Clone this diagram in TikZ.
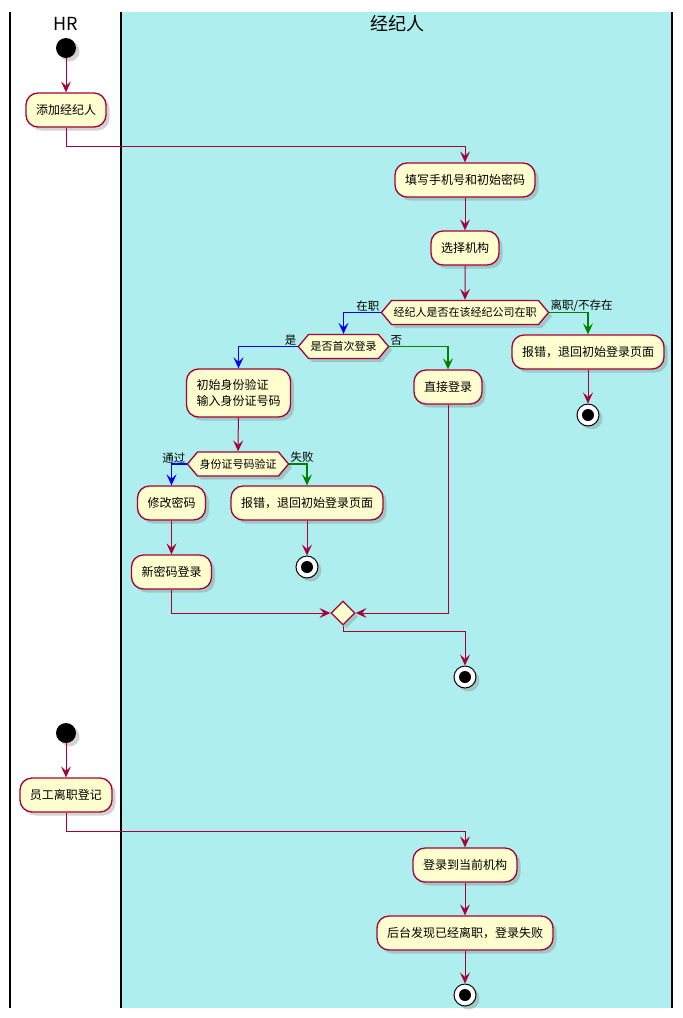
\documentclass[tikz,border=0pt]{standalone}
\usepackage{fontspec}
\setmainfont{Noto Sans CJK SC}
\usetikzlibrary{arrows.meta,shapes.geometric,shapes.symbols,shadows}
\definecolor{umlred}{HTML}{A80036}
\definecolor{umlfill}{HTML}{FEFECE}
\definecolor{lanecyan}{HTML}{AFEEEE}
\definecolor{umlgreen}{HTML}{008000}
\begin{document}
\begin{tikzpicture}[x=1pt,y=-1pt]
	\tikzstyle{shade} = [drop shadow={shadow xshift=3.5pt, shadow yshift=-3.5pt, opacity=0.35}]
	\tikzstyle{act} = [rectangle, rounded corners=12pt, draw=umlred, line width=1.3pt, fill=umlfill, minimum height=34pt, inner xsep=10pt, font=\fontsize{12}{16}\selectfont, shade]
	\tikzstyle{cond} = [signal, signal to=east and west, signal pointer angle=100, draw=umlred, line width=1.3pt, fill=umlfill, minimum height=24pt, inner xsep=2pt, inner ysep=2pt, font=\fontsize{11}{13}\selectfont, shade]
	\tikzstyle{merge} = [diamond, draw=umlred, line width=1.3pt, fill=umlfill, minimum size=24pt, inner sep=0pt, shade]
	\tikzstyle{start} = [circle, fill=black, minimum size=20pt, inner sep=0pt, shade]
	\tikzstyle{stop} = [circle, draw=black, line width=1pt, fill=white, minimum size=22pt, inner sep=0pt, shade, path picture={\fill[black] (path picture bounding box.center) circle (6pt);}]
	\tikzstyle{guard} = [font=\fontsize{11.5}{13}\selectfont, inner sep=1pt]
	\tikzstyle{flow} = [draw=umlred, line width=1pt, -{Stealth[length=11pt,width=10pt,inset=4.5pt]}]
	\tikzstyle{flowyes} = [flow, draw=blue, line width=1.5pt]
	\tikzstyle{flowno} = [flow, draw=umlgreen, line width=1.5pt]
\def\col{465}
\def\laneTop{12}
\def\laneBot{1008}

\useasboundingbox (0,0) rectangle (683,1018);

%swimlanes
\fill[lanecyan] (121,\laneTop) rectangle (672,\laneBot);
\foreach \x in {10, 121, 672}
	\draw[line width=1.5pt] (\x,\laneTop) -- (\x,\laneBot);
\node[font=\fontsize{18}{20}\selectfont] (hrtitle) at (66,24) {HR};
\node[font=\fontsize{18}{20}\selectfont] (agenttitle) at (397,24) {经纪人};

%start and stop points
\foreach \name/\x/\y in {start1/66/48, start2/66/733}
	\node[start] (\name) at (\x,\y) {};
\foreach \name/\x/\y in {stop1/588/415, stop2/307/567, stop3/\col/677, stop4/\col/995}
	\node[stop] (\name) at (\x,\y) {};

%activities
\foreach \name/\x/\y/\txt in {add/66/110/添加经纪人, phone/\col/180/填写手机号和初始密码, org/\col/248/选择机构,
	errquit/588/352/报错，退回初始登录页面, direct/448/387/直接登录, modify/171.5/503/修改密码,
	err2/307/503/报错，退回初始登录页面, newpw/171.5/572/新密码登录, offboard/66/795/员工离职登记,
	login/\col/865/登录到当前机构, fail/\col/933/后台发现已经离职，登录失败}
	\node[act] (\name) at (\x,\y) {\txt};
\node[act, align=left, minimum height=48pt] (init) at (238.5,393) {初始身份验证\\输入身份证号码};

%decisions
\node[cond] (onjob) at (\col,312.5) {经纪人是否在该经纪公司在职};
\node[cond] (first) at (343.5,346.5) {是否首次登录};
\node[cond] (idcheck) at (238,464) {身份证号码验证};
\node[merge] (join) at (343,613) {};

\node[guard, anchor=south east] (lonjob) at (onjob.west) {在职};
\node[guard, anchor=south west] (lquit) at (onjob.east) {离职/不存在};
\node[guard, anchor=south east] (lyes) at (first.west) {是};
\node[guard, anchor=south west] (lno) at (first.east) {否};
\node[guard, anchor=south east] (lpass) at (idcheck.west) {通过};
\node[guard, anchor=south west] (lfail) at (idcheck.east) {失败};

%connectors
\draw[flow] (start1) -- (add);
\draw[flow] (add.south) -- ++(0,19) -| (phone.north);
\draw[flow] (phone) -- (org);
\draw[flow] (org) -- (onjob);
\draw[flowyes] (onjob.west) -| (first.north);
\draw[flowno] (onjob.east) -| (errquit.north);
\draw[flow] (errquit) -- (stop1);
\draw[flowyes] (first.west) -| (init.north);
\draw[flowno] (first.east) -| (direct.north);
\draw[flow] (init) -- (idcheck);
\draw[flowyes] (idcheck.west) -| (modify.north);
\draw[flowno] (idcheck.east) -| (err2.north);
\draw[flow] (modify) -- (newpw);
\draw[flow] (err2) -- (stop2);
\draw[flow] (newpw.south) |- (join.west);
\draw[flow] (direct.south) |- (join.east);
\draw[flow] (join.south) -- ++(0,6) -| (stop3.north);

\draw[flow] (start2) -- (offboard);
\draw[flow] (offboard.south) -- ++(0,19) -| (login.north);
\draw[flow] (login) -- (fail);
\draw[flow] (fail) -- (stop4);
\end{tikzpicture}
\end{document}
